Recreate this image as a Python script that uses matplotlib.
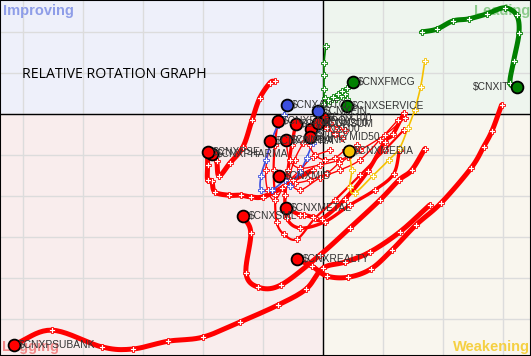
import numpy as np
import matplotlib
matplotlib.use("Agg")
import matplotlib.pyplot as plt
from matplotlib.patches import Rectangle

# ---------------- data (RS-Ratio x, RS-Momentum y), tail start -> head ----------------
it_x = [101.65, 101.90, 102.17, 102.43, 102.73, 103.03, 103.23, 103.27, 103.18, 103.12, 103.23]
it_y = [102.00, 102.07, 102.27, 102.32, 102.44, 102.59, 102.41, 101.98, 101.29, 100.76, 100.66]

fmcg_x = [100.02, 100.08, 100.17, 100.25, 100.32, 100.40, 100.50]
fmcg_y = [100.24, 100.34, 100.41, 100.49, 100.56, 100.63, 100.78]

service_x = [100.05, 100.02, 100.02, 100.02, 100.03, 100.12, 100.22, 100.30, 100.37, 100.40, 100.40]
service_y = [101.66, 101.24, 100.95, 100.61, 100.39, 100.32, 100.37, 100.44, 100.49, 100.37, 100.20]

media_x = [101.70, 101.63, 101.53, 101.42, 101.28, 101.10, 100.83, 100.53, 100.45, 100.48, 100.43]
media_y = [101.29, 100.66, 100.10, 99.66, 99.17, 98.88, 98.49, 98.07, 98.22, 98.63, 99.10]

auto_x = [99.37, 99.15, 98.97, 98.97, 99.05, 99.15, 99.25, 99.35, 99.40]
auto_y = [98.39, 98.15, 98.15, 98.49, 98.88, 99.37, 99.73, 99.98, 100.22]

fin_x = [99.45, 99.62, 99.73, 99.83, 99.92, 99.98, 99.92]
fin_y = [98.24, 98.59, 98.93, 99.29, 99.66, 99.90, 100.07]

realty_x = [102.98, 102.82, 102.68, 102.47, 101.97, 101.55, 101.15, 100.80, 100.42, 100.07, 99.82, 99.57]
realty_y = [100.22, 99.59, 99.20, 98.68, 97.83, 97.29, 96.68, 96.22, 96.02, 96.05, 96.29, 96.46]

psubank_x = [101.78, 101.28, 100.78, 100.37, 100.00, 99.72, 99.25, 98.62, 98.00, 97.42, 96.83, 96.32, 95.48, 94.85]
psubank_y = [97.78, 97.12, 96.63, 96.39, 96.24, 95.73, 95.34, 94.93, 94.56, 94.46, 94.27, 94.32, 94.73, 94.37]

sml_x = [101.70, 101.48, 101.27, 100.95, 100.45, 99.95, 99.30, 98.92, 98.72, 98.80, 98.67]
sml_y = [99.15, 98.63, 98.39, 97.90, 97.22, 96.56, 95.83, 95.78, 96.12, 97.10, 97.51]

metal_x = [101.35, 101.17, 101.03, 100.75, 100.37, 99.98, 99.83, 99.68, 99.62, 99.38]
metal_y = [100.02, 99.51, 99.32, 98.61, 97.93, 97.44, 97.49, 97.54, 97.54, 97.71]

pharma_x = [99.20, 99.12, 98.95, 98.82, 98.67, 98.45, 98.27, 98.23, 98.15]
pharma_y = [100.80, 100.76, 100.39, 99.85, 99.20, 98.80, 98.49, 98.85, 99.02]

pse_x = [99.83, 99.50, 99.32, 99.00, 98.80, 98.63, 98.43, 98.20, 98.15, 98.08, 98.08, 98.08]
pse_y = [98.63, 98.39, 98.20, 97.98, 97.98, 98.02, 98.02, 98.10, 98.37, 98.39, 98.76, 99.07]

mid_x = [100.57, 100.42, 100.27, 100.07, 99.78, 99.53, 99.37, 99.27]
mid_y = [99.24, 98.95, 98.80, 98.56, 98.39, 98.32, 98.39, 98.49]

energy_x = [101.35, 101.03, 100.62, 100.20, 99.87, 99.57, 99.35, 99.23, 99.20, 99.18, 99.20, 99.25]
energy_y = [99.61, 99.12, 98.51, 97.90, 97.46, 96.95, 97.07, 97.37, 98.02, 98.63, 99.24, 99.83]

consum_x = [101.28, 101.18, 100.87, 100.45, 100.03, 99.62, 99.40, 99.37, 99.42, 99.48, 99.55]
consum_y = [99.12, 98.54, 98.15, 97.78, 97.37, 97.22, 97.46, 98.02, 98.63, 99.24, 99.76]

cnx500_x = [101.25, 100.95, 100.62, 100.28, 99.95, 99.62, 99.45, 99.53, 99.67, 99.80]
cnx500_y = [99.85, 99.37, 98.88, 98.63, 98.44, 98.15, 98.39, 98.88, 99.29, 99.63]

infra_x = [100.12, 99.83, 99.62, 99.37, 99.20, 99.08, 99.05, 99.12]
infra_y = [99.12, 98.95, 98.63, 98.27, 97.90, 98.15, 98.63, 99.34]

bank_x = [101.37, 101.03, 100.62, 100.28, 99.95, 99.62, 99.45, 99.38]
bank_y = [99.90, 99.49, 99.12, 98.88, 98.76, 98.68, 98.88, 99.37]

mid50_x = [100.37, 100.20, 100.03, 99.87, 99.78, 99.78]
mid50_y = [99.12, 98.93, 98.88, 99.00, 99.24, 99.44]

cnx100_x = [100.37, 100.25, 100.12, 100.00]
cnx100_y = [99.61, 99.66, 99.78, 99.90]

cnx200_x = [100.32, 100.20, 100.07, 99.92]
cnx200_y = [99.41, 99.51, 99.66, 99.78]

# name, x, y, colour, line width, label side
series = [
    ("$CNXENERGY", energy_x, energy_y, "#ff0000", 1.6, "r"),
    ("$CNXCONSUM", consum_x, consum_y, "#ff0000", 2.4, "r"),
    ("$CNX500", cnx500_x, cnx500_y, "#ff0000", 1.0, "r"),
    ("$CNXINFRA", infra_x, infra_y, "#ff0000", 1.0, "r"),
    ("$CNXBANK", bank_x, bank_y, "#ff0000", 1.0, "r"),
    ("$NIFTYMID50", mid50_x, mid50_y, "#ff0000", 1.0, "r"),
    ("$CNX100", cnx100_x, cnx100_y, "#ff0000", 1.0, "r"),
    ("$CNX200", cnx200_x, cnx200_y, "#ff0000", 1.0, "r"),
    ("$CNXMID", mid_x, mid_y, "#ff0000", 1.0, "r"),
    ("$CNXMETAL", metal_x, metal_y, "#ff0000", 3.0, "r"),
    ("$CNXREALTY", realty_x, realty_y, "#ff0000", 3.6, "r"),
    ("$CNXSML", sml_x, sml_y, "#ff0000", 3.6, "r"),
    ("$CNXPSUBANK", psubank_x, psubank_y, "#ff0000", 3.6, "r"),
    ("$CNXPHARMA", pharma_x, pharma_y, "#ff0000", 3.6, "r"),
    ("$CNXPSE", pse_x, pse_y, "#ff0000", 3.6, "r"),
    ("$CNXAUTO", auto_x, auto_y, "#3b4fe0", 1.2, "r"),
    ("$CNXFIN", fin_x, fin_y, "#3b4fe0", 1.2, "r"),
    ("$CNXMEDIA", media_x, media_y, "#f5c000", 1.2, "r"),
    ("$CNXSERVICE", service_x, service_y, "#008000", 1.2, "r"),
    ("$CNXFMCG", fmcg_x, fmcg_y, "#008000", 1.2, "r"),
    ("$CNXIT", it_x, it_y, "#008000", 3.6, "l"),
]

XMIN, XMAX = 94.62, 103.47
YMIN, YMAX = 94.10, 102.78
SX, SY = 60.0, 41.0  # display-proportional scaling for smoothing


def catmull(xs, ys, n=10):
    p = np.column_stack([np.asarray(xs) * SX, np.asarray(ys) * SY])
    if len(p) < 3:
        return p[:, 0] / SX, p[:, 1] / SY
    ext = np.vstack([2 * p[0] - p[1], p, 2 * p[-1] - p[-2]])
    out = []
    t = np.linspace(0, 1, n, endpoint=False)[:, None]
    for i in range(1, len(ext) - 2):
        p0, p1, p2, p3 = ext[i - 1], ext[i], ext[i + 1], ext[i + 2]
        seg = 0.5 * ((2 * p1) + (-p0 + p2) * t + (2 * p0 - 5 * p1 + 4 * p2 - p3) * t ** 2
                     + (-p0 + 3 * p1 - 3 * p2 + p3) * t ** 3)
        out.append(seg)
    out.append(p[-1][None, :])
    out = np.vstack(out)
    return out[:, 0] / SX, out[:, 1] / SY


fig = plt.figure(figsize=(5.31, 3.56), dpi=100)
ax = fig.add_axes([0, 0, 1, 1])
ax.set_xlim(XMIN, XMAX)
ax.set_ylim(YMIN, YMAX)

# quadrant backgrounds
ax.add_patch(Rectangle((XMIN, 100), 100 - XMIN, YMAX - 100, color="#eef0fa", zorder=0))
ax.add_patch(Rectangle((100, 100), XMAX - 100, YMAX - 100, color="#eef5ee", zorder=0))
ax.add_patch(Rectangle((100, YMIN), XMAX - 100, 100 - YMIN, color="#f9f6ee", zorder=0))
ax.add_patch(Rectangle((XMIN, YMIN), 100 - XMIN, 100 - YMIN, color="#f9eded", zorder=0))

for gx in np.arange(95, 104, 1.0):
    ax.axvline(gx, color="#dcdcdc", lw=1.0, zorder=1)
for gy in np.arange(95, 103, 1.0):
    ax.axhline(gy, color="#dcdcdc", lw=1.0, zorder=1)
ax.axvline(100, color="black", lw=1.0, zorder=2)
ax.axhline(100, color="black", lw=1.0, zorder=2)

ax.set_xticks([])
ax.set_yticks([])
for s in ax.spines.values():
    s.set_color("black")
    s.set_linewidth(1.5)

# quadrant labels
qfont = dict(fontsize=10.5, fontweight="bold", family=["Liberation Sans", "DejaVu Sans"], zorder=3)
ax.text(0.006, 0.99, "Improving", transform=ax.transAxes, ha="left", va="top",
        color="#8e9de8", **qfont)
ax.text(0.998, 0.99, "Leading", transform=ax.transAxes, ha="right", va="top",
        color="#8ccb8c", **qfont)
ax.text(0.998, 0.006, "Weakening", transform=ax.transAxes, ha="right", va="bottom",
        color="#f5d042", **qfont)
ax.text(0.004, 0.006, "Lagging", transform=ax.transAxes, ha="left", va="bottom",
        color="#f28a8a", **qfont)
ax.text(0.042, 0.792, "RELATIVE ROTATION GRAPH", transform=ax.transAxes, ha="left",
        va="center", fontsize=10.2, color="black", family=["Open Sans", "DejaVu Sans"], zorder=3)

for name, xs, ys, col, lw, side in series:
    sx, sy = catmull(xs, ys)
    ax.plot(sx, sy, color=col, lw=lw, solid_capstyle="round", zorder=4)
    ax.plot(xs[:-1], ys[:-1], ls="none", marker="P", ms=3.8, mfc="white",
            mec=col, mew=0.6, zorder=5)

lfont = ["Liberation Sans", "DejaVu Sans"]
for name, xs, ys, col, lw, side in series:
    ax.plot(xs[-1], ys[-1], ls="none", marker="o", ms=8.5, mfc=col, mec="black",
            mew=1.3, zorder=7)
    if side == "r":
        ax.annotate(name, (xs[-1], ys[-1]), xytext=(4, 0), textcoords="offset points",
                    ha="left", va="center", fontsize=7.4, color="#333333", family=lfont, zorder=8)
    else:
        ax.annotate(name, (xs[-1], ys[-1]), xytext=(-5, 0), textcoords="offset points",
                    ha="right", va="center", fontsize=7.4, color="#333333", family=lfont, zorder=8)

fig.savefig("out.png", dpi=100)
